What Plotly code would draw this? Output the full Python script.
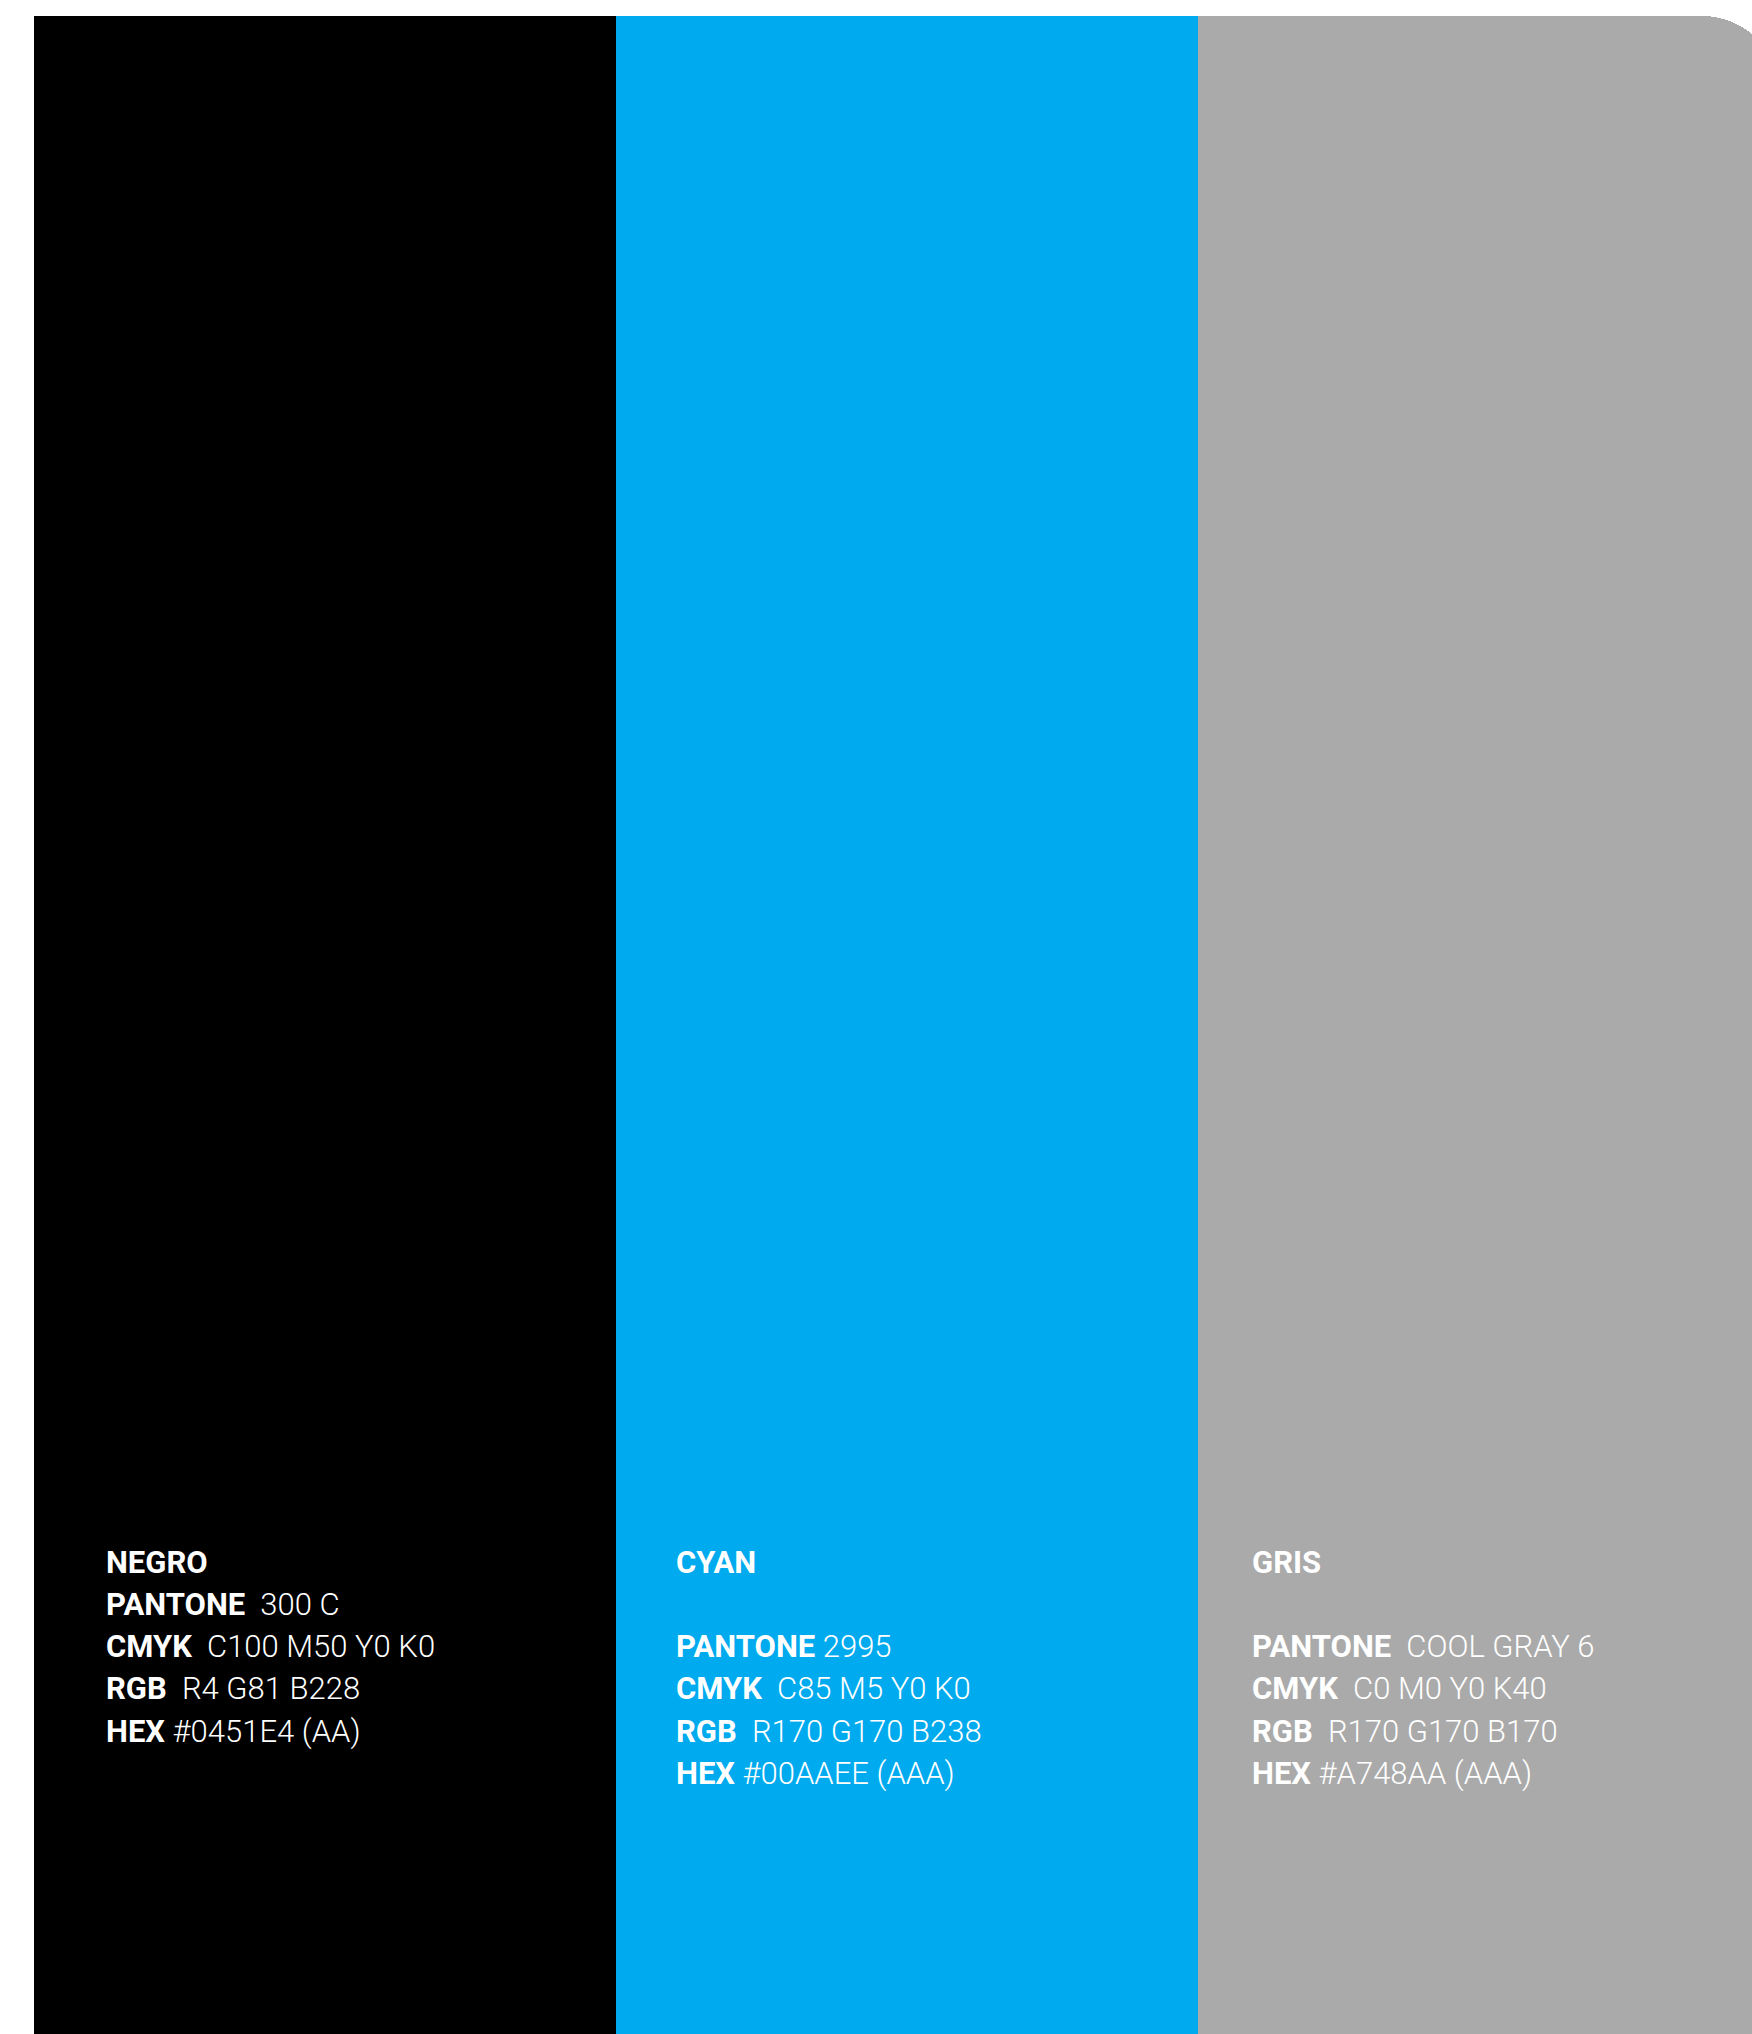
import plotly.graph_objects as go

# ---- data ----
names = ["NEGRO", "CYAN", "GRIS"]
panel_colors = ["#000000", "#00AAEE", "#AAAAAA"]
heights = [1, 1, 1]

labels_negro = ["NEGRO", "PANTONE", "CMYK", "RGB", "HEX"]
values_negro = ["", "300 C", "C100 M50 Y0 K0", "R4 G81 B228", "#0451E4 (AA)"]
gaps_negro = [0, 2, 2, 2, 1]

labels_cyan = ["CYAN", "", "PANTONE", "CMYK", "RGB", "HEX"]
values_cyan = ["", "", "2995", "C85 M5 Y0 K0", "R170 G170 B238", "#00AAEE (AAA)"]
gaps_cyan = [0, 0, 1, 2, 2, 1]

labels_gris = ["GRIS", "", "PANTONE", "CMYK", "RGB", "HEX"]
values_gris = ["", "", "COOL GRAY 6", "C0 M0 Y0 K40", "R170 G170 B170", "#A748AA (AAA)"]
gaps_gris = [0, 0, 2, 2, 2, 1]

panel_labels = [labels_negro, labels_cyan, labels_gris]
panel_values = [values_negro, values_cyan, values_gris]
panel_gaps = [gaps_negro, gaps_cyan, gaps_gris]

# ---- style ----
W, H = 1752, 2034
bar_px = 582.0
left_px = 34.0
top_px = 16.0
corner = [0, 0, 78]
text_offset_px = [70.5, 58.5, 53.0]
first_baseline_px = 1572.7
line_step_px = 42.3
font_size = 31

x_min = -0.5 - left_px / bar_px
x_max = x_min + W / bar_px
y_max = H / (H - top_px)

fig = go.Figure()
for i, name in enumerate(names):
    fig.add_trace(go.Bar(
        x=[i], y=[heights[i]], width=1, name=name,
        marker=dict(color=panel_colors[i], line=dict(width=0), cornerradius=corner[i]),
        hoverinfo="skip", showlegend=False,
    ))
    if corner[i]:
        # square-off the left top corner: only the right top corner is rounded
        fig.add_trace(go.Bar(
            x=[i - 0.25], y=[heights[i]], width=0.5, name=name,
            marker=dict(color=panel_colors[i], line=dict(width=0)),
            hoverinfo="skip", showlegend=False,
        ))

annotations = []
for i in range(len(names)):
    x_px = left_px + i * bar_px + text_offset_px[i]
    for k, (lab, val, g) in enumerate(zip(panel_labels[i], panel_values[i], panel_gaps[i])):
        if not lab and not val:
            continue
        txt = "<b>" + lab + "</b>"
        if val:
            txt += "&nbsp;" * g + val
        baseline = first_baseline_px + k * line_step_px
        center = baseline - 0.342 * font_size
        annotations.append(dict(
            xref="paper", yref="paper",
            x=x_px / W, y=1 - center / H,
            xanchor="left", yanchor="middle",
            text=txt, showarrow=False, align="left",
            font=dict(family="Roboto", size=font_size, color="#FFFFFF", weight=300),
            borderpad=0,
        ))

fig.update_layout(
    width=W, height=H,
    margin=dict(l=0, r=0, t=0, b=0, pad=0),
    paper_bgcolor="#FFFFFF", plot_bgcolor="#FFFFFF",
    bargap=0, barmode="overlay",
    xaxis=dict(range=[x_min, x_max], visible=False, fixedrange=True),
    yaxis=dict(range=[0, y_max], visible=False, fixedrange=True),
    annotations=annotations,
)

fig.write_html("out.html", config={"displayModeBar": False},
               post_script="document.body.style.margin='0';")
